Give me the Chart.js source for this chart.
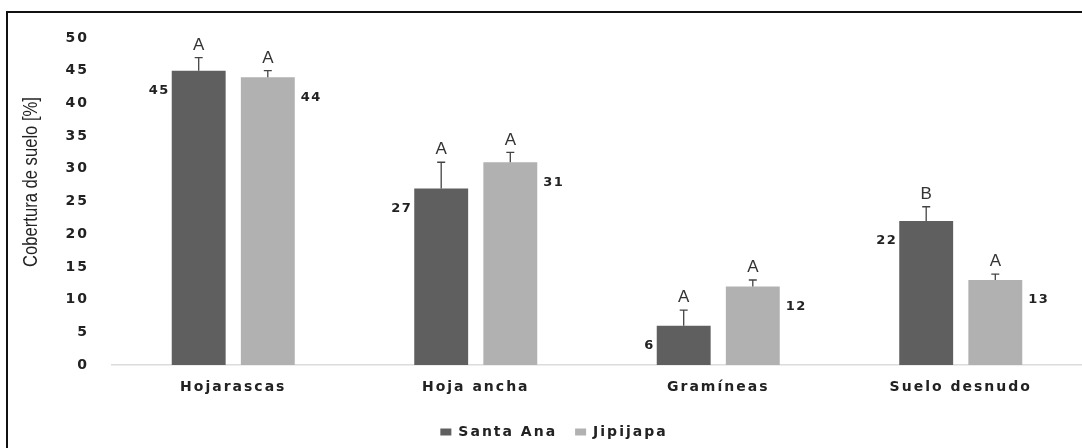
<!DOCTYPE html>
<html>
<head>
<meta charset="utf-8">
<title>Cobertura de suelo</title>
<script src="https://cdn.jsdelivr.net/npm/chart.js@4/dist/chart.umd.min.js"></script>
<style>
  html, body { margin: 0; padding: 0; background: #fff; }
  #wrap { position: relative; width: 1082px; height: 448px; }
</style>
</head>
<body>
<div id="wrap"><canvas id="chart" width="1082" height="448"></canvas></div>
<script>
// Ground cover per cover type and site
const categories = ['Hojarascas', 'Hoja ancha', 'Gramíneas', 'Suelo desnudo'];
const santaAna = [45, 27, 6, 22];
const jipijapa = [44, 31, 12, 13];
// Standard error of each mean
const errSantaAna = [2, 4, 2.4, 2.2];
const errJipijapa = [1, 1.5, 1, 0.9];
// Significance letters
const lettersSantaAna = ['A', 'A', 'A', 'B'];
const lettersJipijapa = ['A', 'A', 'A', 'A'];
const yTicks = [0, 5, 10, 15, 20, 25, 30, 35, 40, 45, 50];

const TEXT = '#222222';
const SPACED = '2px';
const FAMILY = '"DejaVu Sans", Verdana, sans-serif';

// Tracked text for ticks, category labels and legend
const tracking = {
  id: 'tracking',
  beforeLayout(chart) { chart.ctx.letterSpacing = SPACED; },
  beforeDraw(chart) {
    const ctx = chart.ctx;
    ctx.save();
    ctx.fillStyle = '#ffffff';
    ctx.fillRect(0, 0, chart.width, chart.height);
    // frame
    ctx.strokeStyle = '#111111';
    ctx.lineWidth = 2;
    ctx.beginPath();
    ctx.moveTo(7, chart.height);
    ctx.lineTo(7, 12);
    ctx.lineTo(chart.width, 12);
    ctx.stroke();
    // axis title, condensed along its length
    ctx.letterSpacing = '0px';
    ctx.translate(31, 182);
    ctx.rotate(-Math.PI / 2);
    ctx.scale(0.83, 1);
    ctx.font = '20px "Liberation Sans", Arial, sans-serif';
    ctx.fillStyle = TEXT;
    ctx.textAlign = 'center';
    ctx.textBaseline = 'middle';
    ctx.fillText('Cobertura de suelo [%]', 0, 0);
    ctx.restore();
    ctx.letterSpacing = SPACED;
  }
};

// Error bars, significance letters and value labels
const annotations = {
  id: 'annotations',
  afterDatasetsDraw(chart) {
    const ctx = chart.ctx;
    const y = chart.scales.y;
    const sets = [
      { err: errSantaAna, letters: lettersSantaAna, side: 'left' },
      { err: errJipijapa, letters: lettersJipijapa, side: 'right' }
    ];
    ctx.save();
    sets.forEach((s, di) => {
      const meta = chart.getDatasetMeta(di);
      const values = chart.data.datasets[di].data;
      meta.data.forEach((bar, i) => {
        const v = values[i];
        const top = y.getPixelForValue(v);
        const cap = y.getPixelForValue(v + s.err[i]);
        ctx.strokeStyle = '#444444';
        ctx.lineWidth = 1.3;
        ctx.beginPath();
        ctx.moveTo(bar.x, top);
        ctx.lineTo(bar.x, cap);
        ctx.moveTo(bar.x - 4, cap);
        ctx.lineTo(bar.x + 4, cap);
        ctx.stroke();

        ctx.letterSpacing = '0px';
        ctx.font = '17px "Liberation Sans", Arial, sans-serif';
        ctx.fillStyle = '#333333';
        ctx.textAlign = 'center';
        ctx.textBaseline = 'bottom';
        ctx.fillText(s.letters[i], bar.x, cap - 4);

        ctx.letterSpacing = '1.5px';
        ctx.font = 'bold 13px ' + FAMILY;
        ctx.fillStyle = TEXT;
        ctx.textBaseline = 'middle';
        const half = bar.width / 2;
        if (s.side === 'left') {
          ctx.textAlign = 'right';
          ctx.fillText(String(v), bar.x - half - 2, top + 20);
        } else {
          ctx.textAlign = 'left';
          ctx.fillText(String(v), bar.x + half + 6, top + 20);
        }
      });
    });
    ctx.restore();
    ctx.letterSpacing = SPACED;
  }
};

new Chart(document.getElementById('chart'), {
  type: 'bar',
  data: {
    labels: categories,
    datasets: [
      { label: 'Santa Ana', data: santaAna, backgroundColor: '#5f5f5f',
        categoryPercentage: 0.57, barPercentage: 0.78 },
      { label: 'Jipijapa', data: jipijapa, backgroundColor: '#b1b1b1',
        categoryPercentage: 0.57, barPercentage: 0.78 }
    ]
  },
  options: {
    responsive: false,
    animation: false,
    devicePixelRatio: 1,
    layout: { padding: { top: 38, right: 0, left: 26, bottom: -1 } },
    plugins: {
      legend: {
        position: 'bottom',
        labels: {
          boxWidth: 11, boxHeight: 7,
          color: TEXT,
          padding: 18,
          font: { family: FAMILY, size: 14, weight: 'bold' }
        }
      },
      tooltip: { enabled: false }
    },
    scales: {
      x: {
        afterFit(scale) { scale.height = 42; },
        grid: { display: false },
        border: { display: true, color: '#dcdcdc', width: 1.5 },
        ticks: {
          color: TEXT, padding: 6, maxRotation: 0,
          font: { family: FAMILY, size: 14, weight: 'bold' }
        }
      },
      y: {
        min: 0, max: 50,
        afterFit(scale) { scale.width = 86; },
        afterBuildTicks(scale) { scale.ticks = yTicks.map(v => ({ value: v })); },
        grid: { display: false },
        border: { display: false },
        ticks: {
          color: TEXT, padding: 15,
          font: { family: FAMILY, size: 14, weight: 'bold' }
        }
      }
    }
  },
  plugins: [tracking, annotations]
});
</script>
</body>
</html>
